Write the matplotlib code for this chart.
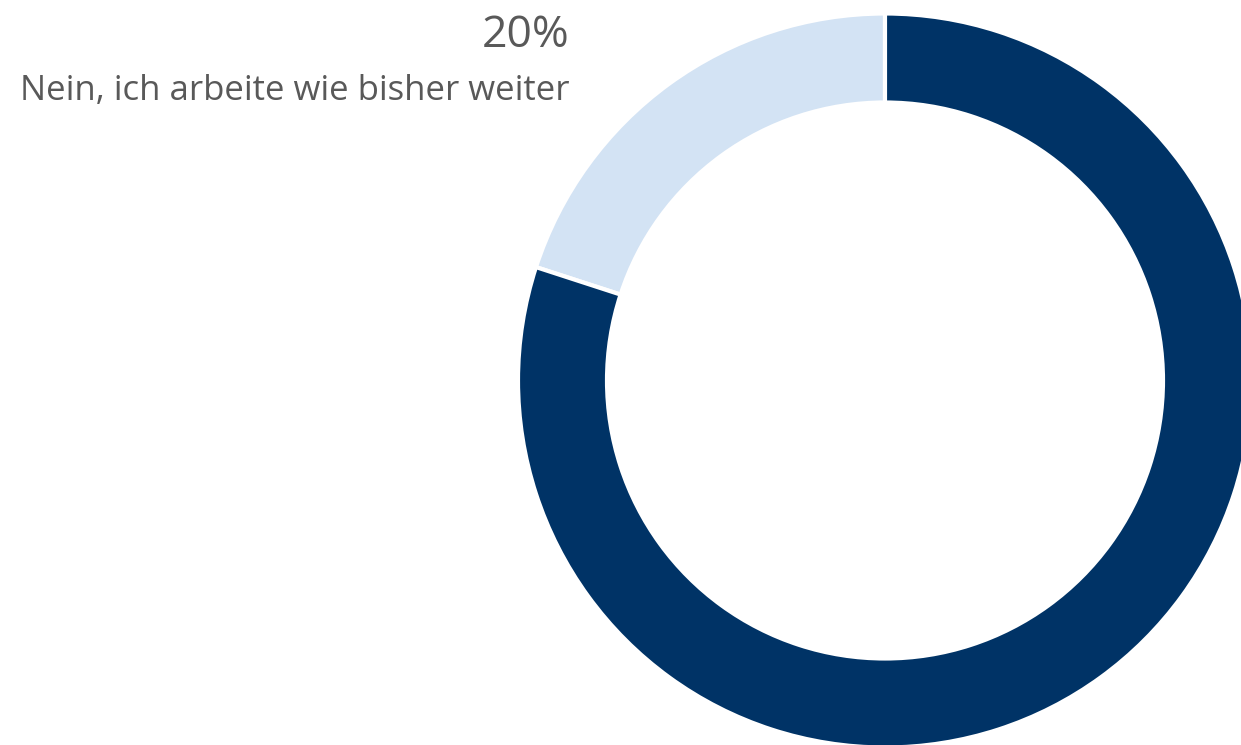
import matplotlib.pyplot as plt

labels = ["Nein, ich arbeite wie bisher weiter", "Ja"]
values = [20, 80]
colors = ["#D3E3F4", "#003366"]

fig = plt.figure(figsize=(12.41, 7.45), dpi=100)
ax = fig.add_axes([0, 0, 1, 1])
ax.set_xlim(0, 1241)
ax.set_ylim(0, 745)
ax.set_aspect("equal")
ax.axis("off")

# donut, centre and size in pixel units of the canvas
ax.pie(values, colors=colors, startangle=90, counterclock=True,
       center=(885, 364.5), radius=367,
       wedgeprops=dict(width=89, edgecolor="white", linewidth=3))
ax.set_xlim(0, 1241)
ax.set_ylim(0, 745)

# label for the small slice
ax.text(570, 745 - 47, f"{values[0]}%", ha="right", va="baseline",
        fontsize=32, color="#595959", family="Open Sans")
ax.text(570, 745 - 100, labels[0], ha="right", va="baseline",
        fontsize=25, color="#595959", family="Open Sans")

fig.savefig("out.png", dpi=100)
